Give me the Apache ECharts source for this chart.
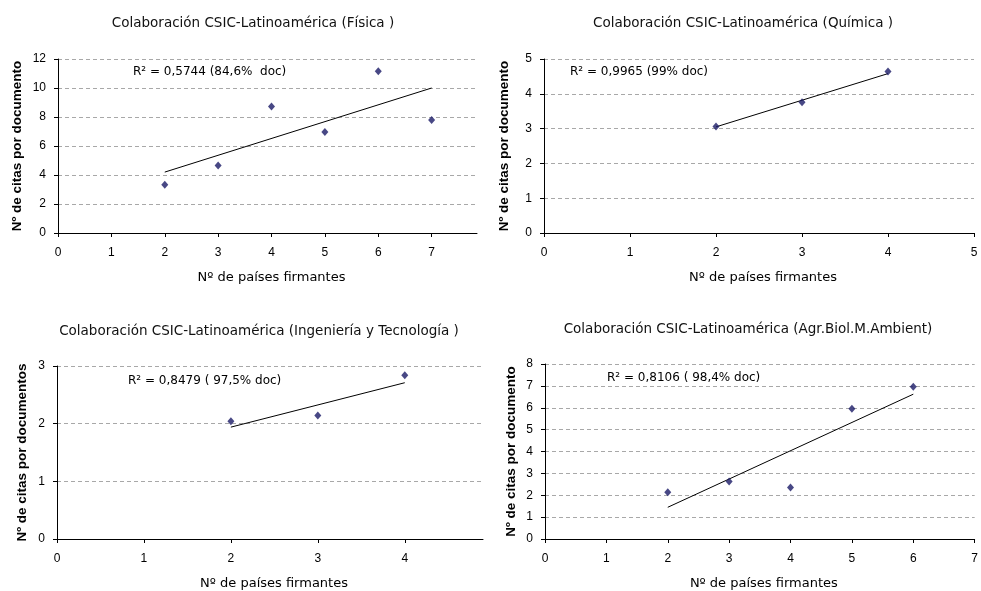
<!DOCTYPE html>
<html><head><meta charset="utf-8">
<script src="https://cdn.jsdelivr.net/npm/echarts@6/dist/echarts.min.js"></script>
<style>html,body{margin:0;padding:0;background:#fff}#c{width:981px;height:591px}</style>
</head><body><div id="c"></div>
<script>
// Panel titles
const titles = [
  "Colaboración CSIC-Latinoamérica (Física )",
  "Colaboración CSIC-Latinoamérica (Química )",
  "Colaboración CSIC-Latinoamérica (Ingeniería y Tecnología )",
  "Colaboración CSIC-Latinoamérica (Agr.Biol.M.Ambient)"
];
const r2Labels = [
  "R² = 0,5744 (84,6%  doc)",
  "R² = 0,9965 (99% doc)",
  "R² = 0,8479 ( 97,5% doc)",
  "R² = 0,8106 ( 98,4% doc)"
];
const yNames = [
  "Nº de citas por documento",
  "Nº de citas por documento",
  "Nº de citas por documentos",
  "Nº de citas por documento"
];
const xName = "Nº de países firmantes";

// Data (x = nº de países, y = nº de citas por documento)
const fisicaX = [2, 3, 4, 5, 6, 7];
const fisicaY = [3.33, 4.66, 8.73, 6.97, 11.15, 7.79];
const quimicaX = [2, 3, 4];
const quimicaY = [3.06, 3.76, 4.64];
const ingX = [2, 3, 4];
const ingY = [2.04, 2.14, 2.84];
const agrX = [2, 3, 4, 5, 6];
const agrY = [2.14, 2.63, 2.35, 5.96, 6.96];

// Trend line endpoints
const fisicaTrendX = [2, 7], fisicaTrendY = [4.2, 10.0];
const quimicaTrendX = [2, 4], quimicaTrendY = [3.05, 4.58];
const ingTrendX = [2, 4], ingTrendY = [1.94, 2.71];
const agrTrendX = [2, 6], agrTrendY = [1.45, 6.62];

// Axis ranges
const xMax = [7.85, 5, 4.9, 7];
const yMax = [12, 5, 3, 8];
const yInterval = [2, 1, 1, 1];

const pts = (xs, ys) => xs.map((x, i) => [x, ys[i]]);
const seriesData = [pts(fisicaX, fisicaY), pts(quimicaX, quimicaY), pts(ingX, ingY), pts(agrX, agrY)];
const trendData = [pts(fisicaTrendX, fisicaTrendY), pts(quimicaTrendX, quimicaTrendY), pts(ingTrendX, ingTrendY), pts(agrTrendX, agrTrendY)];

// Layout
const grids = [
  {left: 58, top: 59, width: 419, height: 174},
  {left: 544, top: 59, width: 430, height: 174},
  {left: 57, top: 366, width: 426, height: 174},
  {left: 545, top: 364, width: 434, height: 175}
];
const titlePos = [[248, 11], [738, 11], [254, 319], [743, 317]];
const r2Pos = [[133, 66], [570, 66], [128, 375], [607, 372]];
const yNameGap = [34, 33, 28, 27];

const FONT = "'Liberation Sans', Arial, sans-serif";
const WIDE = "'DejaVu Sans', Verdana, sans-serif";

const chart = echarts.init(document.getElementById('c'), null, {renderer: 'canvas'});
const option = {
  animation: false,
  backgroundColor: '#fff',
  title: titles.map((t, i) => ({
    text: t, left: titlePos[i][0], top: titlePos[i][1], textAlign: 'center',
    textStyle: {fontFamily: WIDE, fontSize: 13.5, fontWeight: 'normal', color: '#111'}
  })),
  grid: grids,
  xAxis: grids.map((g, i) => ({
    type: 'value', gridIndex: i, min: 0, max: xMax[i], interval: 1,
    name: xName, nameLocation: 'middle', nameGap: 38,
    nameTextStyle: {fontFamily: WIDE, fontSize: 13, color: '#000', padding: [0, 0, 0, 8]},
    axisLine: {show: true, onZero: false, lineStyle: {color: '#000', width: 1}},
    axisTick: {show: true, inside: false, length: 4, lineStyle: {color: '#000'}},
    axisLabel: {fontFamily: FONT, fontSize: 12, color: '#000', margin: 14, showMaxLabel: xMax[i] % 1 === 0,
      formatter: v => (v % 1 === 0 ? String(v) : '')},
    splitLine: {show: false}
  })),
  yAxis: grids.map((g, i) => ({
    type: 'value', gridIndex: i, min: 0, max: yMax[i], interval: yInterval[i],
    name: yNames[i], nameLocation: 'middle', nameGap: yNameGap[i], nameRotate: 90,
    nameTextStyle: {fontFamily: FONT, fontSize: 13.5, fontWeight: 'bold', color: '#000'},
    axisLine: {show: true, lineStyle: {color: '#000', width: 1}},
    axisTick: {show: true, length: 4, lineStyle: {color: '#000'}},
    axisLabel: {fontFamily: FONT, fontSize: 12, color: '#000', margin: 12},
    splitLine: {show: true, lineStyle: {color: '#a8a8a8', type: [4, 3], width: 1}}
  })),
  graphic: r2Labels.map((t, i) => ({
    type: 'text', left: r2Pos[i][0], top: r2Pos[i][1],
    style: {text: t, font: "12px " + WIDE, fill: '#000'}
  })),
  series: [].concat(
    trendData.map((d, i) => ({
      type: 'line', xAxisIndex: i, yAxisIndex: i, data: d, symbol: 'none',
      lineStyle: {color: '#000', width: 1}, z: 2
    })),
    seriesData.map((d, i) => ({
      type: 'scatter', xAxisIndex: i, yAxisIndex: i, data: d, symbol: 'diamond',
      symbolSize: [7, 8], itemStyle: {color: '#1a1a66'}, z: 3
    }))
  )
};
chart.setOption(option);
</script>
</body></html>
